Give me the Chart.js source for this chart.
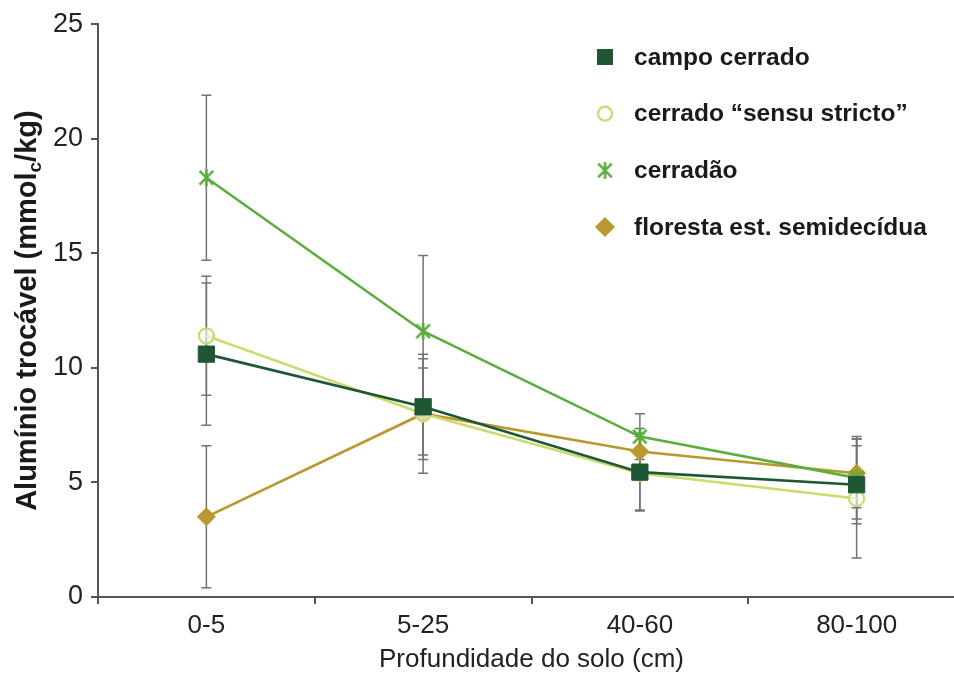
<!DOCTYPE html>
<html>
<head>
<meta charset="utf-8">
<script src="https://cdn.jsdelivr.net/npm/chart.js@4.4.1/dist/chart.umd.min.js"></script>
<style>
html, body { margin: 0; padding: 0; background: #fff; overflow: hidden; }
#wrap { position: relative; width: 954px; height: 678px; overflow: hidden; }
#chart { position: absolute; left: 0; top: 0; }
</style>
</head>
<body>
<div id="wrap"><canvas id="chart" width="985" height="678"></canvas></div>
<script>
// depth classes (x) and mean values with their errors (y)
const depths = ['0-5', '5-25', '40-60', '80-100'];
const campoCerrado = [10.6, 8.3, 5.45, 4.9];
const campoCerradoErr = [3.1, 2.1, 1.7, 1.7];
const sensuStricto = [11.4, 8.0, 5.4, 4.3];
const sensuStrictoErr = [2.6, 2.0, 1.6, 2.6];
const cerradao = [18.3, 11.6, 7.0, 5.2];
const cerradaoErr = [3.6, 3.3, 1.0, 1.8];
const floresta = [3.5, 8.0, 6.35, 5.4];
const florestaErr = [3.1, 2.6, 1.0, 1.5];
const yTicks = [0, 5, 10, 15, 20, 25];

const seriesNames = ['campo cerrado', 'cerrado \u201csensu stricto\u201d', 'cerrad\u00e3o', 'floresta est. semidec\u00eddua'];

const darkGreen = '#1f5734';
const lightGreen = '#c9dc6e';
const midGreen = '#5bae3e';
const gold = '#b8982f';
const fontFam = '"Liberation Sans", Arial, sans-serif';

function asteriskMarker(color, size, lw) {
    var c = document.createElement('canvas');
    c.width = c.height = size;
    var g = c.getContext('2d');
    var h = size / 2, r = h - 1;
    g.strokeStyle = color;
    g.lineWidth = lw;
    g.beginPath();
    g.moveTo(h, h - r); g.lineTo(h, h + r);
    g.moveTo(h - r * 0.8, h - r * 0.8); g.lineTo(h + r * 0.8, h + r * 0.8);
    g.moveTo(h + r * 0.8, h - r * 0.8); g.lineTo(h - r * 0.8, h + r * 0.8);
    g.stroke();
    return c;
}
const starImg = asteriskMarker(midGreen, 19, 2.6);

// vertical error bars, drawn behind the lines
const errorBars = {
    id: 'errorBars',
    beforeDatasetsDraw(chart) {
        const ctx = chart.ctx, y = chart.scales.y;
        ctx.save();
        ctx.strokeStyle = '#737373';
        ctx.lineWidth = 1.5;
        chart.data.datasets.forEach(function (ds, i) {
            chart.getDatasetMeta(i).data.forEach(function (pt, j) {
                const top = y.getPixelForValue(ds.data[j] + ds.err[j]);
                const bot = y.getPixelForValue(ds.data[j] - ds.err[j]);
                ctx.beginPath();
                ctx.moveTo(pt.x, top); ctx.lineTo(pt.x, bot);
                ctx.moveTo(pt.x - 5, top); ctx.lineTo(pt.x + 5, top);
                ctx.moveTo(pt.x - 5, bot); ctx.lineTo(pt.x + 5, bot);
                ctx.stroke();
            });
        });
        ctx.restore();
    }
};

// legend inside the plot, top right
const legendBox = {
    id: 'legendBox',
    afterDraw(chart) {
        const ctx = chart.ctx;
        const mx = 605, tx = 634, y0 = 57, step = 56.7;
        ctx.save();
        ctx.font = 'bold 24.5px ' + fontFam;
        ctx.textBaseline = 'middle';
        seriesNames.forEach(function (name, i) {
            const y = y0 + i * step;
            if (i === 0) {
                ctx.fillStyle = darkGreen;
                ctx.fillRect(mx - 8, y - 8, 16, 16);
            } else if (i === 1) {
                ctx.strokeStyle = lightGreen;
                ctx.lineWidth = 2.2;
                ctx.beginPath();
                ctx.arc(mx, y, 7, 0, Math.PI * 2);
                ctx.stroke();
            } else if (i === 2) {
                ctx.drawImage(starImg, mx - 9.5, y - 9.5);
            } else {
                ctx.fillStyle = gold;
                ctx.beginPath();
                ctx.moveTo(mx, y - 10); ctx.lineTo(mx + 10, y);
                ctx.lineTo(mx, y + 10); ctx.lineTo(mx - 10, y);
                ctx.closePath();
                ctx.fill();
            }
            ctx.fillStyle = '#1a1a1a';
            ctx.fillText(name, tx, y + 1);
        });
        ctx.restore();
    }
};

// rotated y title with subscript c
const yTitle = {
    id: 'yTitle',
    afterDraw(chart) {
        const ctx = chart.ctx, a = chart.chartArea;
        const p1 = 'Alum\u00ednio troc\u00e1vel (mmol', p2 = 'c', p3 = '/kg)';
        const big = 'bold 29px ' + fontFam;
        const small = 'bold 19px ' + fontFam;
        ctx.save();
        ctx.font = big;
        const w1 = ctx.measureText(p1).width, w3 = ctx.measureText(p3).width;
        ctx.font = small;
        const w2 = ctx.measureText(p2).width;
        const total = w1 + w2 + w3;
        ctx.translate(28, (a.top + a.bottom) / 2);
        ctx.rotate(-Math.PI / 2);
        ctx.fillStyle = '#1a1a1a';
        ctx.textBaseline = 'middle';
        let x = -total / 2;
        ctx.font = big; ctx.fillText(p1, x, 0); x += w1;
        ctx.font = small; ctx.fillText(p2, x, 8); x += w2;
        ctx.font = big; ctx.fillText(p3, x, 0);
        ctx.restore();
    }
};

function makeSet(label, data, err, color, extra) {
    return Object.assign({
        label: label,
        data: data,
        err: err,
        borderColor: color,
        backgroundColor: color,
        borderWidth: 2.6,
        pointBorderColor: color,
        pointBackgroundColor: color,
        tension: 0
    }, extra);
}

new Chart(document.getElementById('chart'), {
    type: 'line',
    data: {
        labels: depths,
        datasets: [
            makeSet(seriesNames[0], campoCerrado, campoCerradoErr, darkGreen, { pointStyle: 'rect', pointRadius: 11.5, pointBorderWidth: 1 }),
            makeSet(seriesNames[1], sensuStricto, sensuStrictoErr, lightGreen, { pointStyle: 'circle', pointRadius: 7.5, pointBorderWidth: 2.2, pointBackgroundColor: 'rgba(255,255,255,0.6)' }),
            makeSet(seriesNames[2], cerradao, cerradaoErr, midGreen, { pointStyle: starImg, pointRadius: 9.5 }),
            makeSet(seriesNames[3], floresta, florestaErr, gold, { pointStyle: 'rectRot', pointRadius: 9, pointBorderWidth: 1 })
        ]
    },
    options: {
        responsive: false,
        animation: false,
        devicePixelRatio: 1,
        layout: { padding: { top: 22, right: 20, bottom: 0, left: 0 } },
        plugins: {
            legend: { display: false },
            tooltip: { enabled: false }
        },
        scales: {
            x: {
                type: 'category',
                offset: true,
                afterFit: function (scale) { scale.height = 81; },
                grid: { drawOnChartArea: false, drawTicks: true, tickLength: 7, color: '#555', lineWidth: 2, offset: true },
                border: { display: true, color: '#555', width: 2 },
                ticks: { color: '#222', padding: 6, font: { size: 26, family: fontFam } },
                title: {
                    display: true,
                    text: 'Profundidade do solo (cm)',
                    color: '#222',
                    padding: { top: 0, bottom: 3 },
                    font: { size: 26, family: fontFam }
                }
            },
            y: {
                min: yTicks[0],
                max: yTicks[yTicks.length - 1],
                afterFit: function (scale) { scale.width = 98; },
                afterBuildTicks: function (scale) {
                    scale.ticks = yTicks.map(function (v) { return { value: v }; });
                },
                grid: { drawOnChartArea: false, drawTicks: true, tickLength: 7, color: '#555', lineWidth: 2 },
                border: { display: true, color: '#555', width: 2 },
                ticks: { color: '#222', padding: 8, font: { size: 27, family: fontFam } }
            }
        }
    },
    plugins: [errorBars, legendBox, yTitle]
});
</script>
</body>
</html>
